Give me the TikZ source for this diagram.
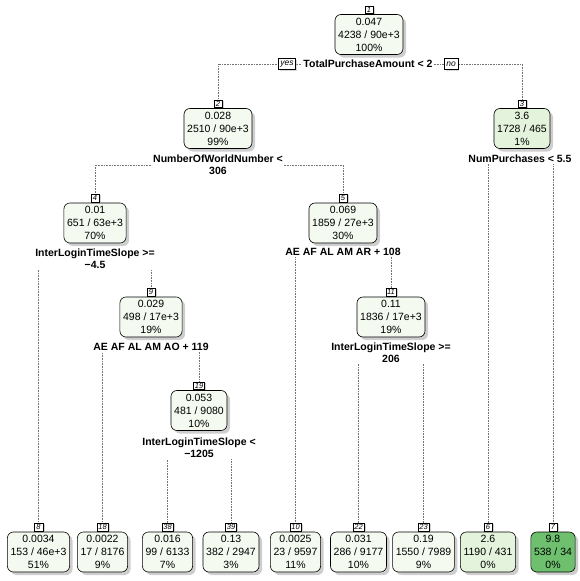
\documentclass[tikz,border=0pt]{standalone}
\usepackage{fontspec}
\setmainfont{Liberation Sans}
\usetikzlibrary{shadows,backgrounds}
\definecolor{lg}{RGB}{244,250,240}
\definecolor{mg}{RGB}{228,243,220}
\definecolor{dg}{RGB}{110,192,110}
\tikzset{
 tn/.style={draw, rounded corners=6pt, line width=0.6pt, fill=lg, align=center,
   font=\fontsize{10.5}{13}\selectfont, inner xsep=3.2pt, inner ysep=0pt, minimum height=40pt,
   drop shadow={shadow xshift=3pt, shadow yshift=-3pt, fill=black!35, opacity=0.55}},
 num/.style={draw, line width=0.4pt, fill=white, font=\fontsize{7.5}{8}\selectfont\itshape,
   inner xsep=1.4pt, inner ysep=0.1pt, minimum width=8.5pt, minimum height=7.5pt, anchor=south,
   drop shadow={shadow xshift=1.8pt, shadow yshift=-1pt, fill=black!30, opacity=0.6}},
 split/.style={fill=white, align=center, font=\fontsize{10.5}{12}\selectfont\bfseries, inner sep=1pt},
 yn/.style={draw, line width=0.4pt, fill=white, font=\fontsize{8.5}{9}\selectfont\itshape,
   inner xsep=2pt, inner ysep=0.3pt, minimum height=11pt,
   drop shadow={shadow xshift=1.5pt, shadow yshift=-1pt, fill=black!25, opacity=0.6}},
 conn/.style={line width=0.5pt, black!55, dash pattern=on 0.5pt off 1.1pt},
}
\begin{document}
\begin{tikzpicture}[x=1pt,y=-1pt]
\useasboundingbox (0,0) rectangle (579,581);
% internal nodes
\node[tn] (n1) at (369,34.5) {0.047\\4238 / 90e+3\\100\%};
\node[num] (l1) at (369,13.5) {1};
\node[split] (s1) at (368,64) {TotalPurchaseAmount < 2};
\node[yn] (yes) at (287,64) {yes};
\node[yn] (no) at (451,64) {no};

\node[tn] (n2) at (218,128.5) {0.028\\2510 / 90e+3\\99\%};
\node[num] (l2) at (218,107.5) {2};
\node[split] (s2) at (218,165) {NumberOfWorldNumber <\\306};

\node[tn,fill=mg] (n3) at (522,128.5) {3.6\\1728 / 465\\1\%};
\node[num] (l3) at (522,107.5) {3};
\node[split] (s3) at (520,159) {NumPurchases < 5.5};

\node[tn] (n4) at (95,223) {0.01\\651 / 63e+3\\70\%};
\node[num] (l4) at (95,202) {4};
\node[split] (s4) at (95,259) {InterLoginTimeSlope >=\\−4.5};

\node[tn] (n5) at (343,223) {0.069\\1859 / 27e+3\\30\%};
\node[num] (l5) at (343,202) {5};
\node[split] (s5) at (343,252) {AE AF AL AM AR + 108};

\node[tn] (n9) at (151,317) {0.029\\498 / 17e+3\\19\%};
\node[num] (l9) at (151,296) {9};
\node[split] (s9) at (151,347) {AE AF AL AM AO + 119};

\node[tn] (n11) at (391,317) {0.11\\1836 / 17e+3\\19\%};
\node[num] (l11) at (391,296) {11};
\node[split] (s11) at (391,353) {InterLoginTimeSlope >=\\206};

\node[tn] (n19) at (199,410.5) {0.053\\481 / 9080\\10\%};
\node[num] (l19) at (199,389.5) {19};
\node[split] (s19) at (199,448) {InterLoginTimeSlope <\\−1205};

% leaves
\node[tn] (n8) at (38.5,552) {0.0034\\153 / 46e+3\\51\%};
\node[num] (l8) at (38.5,531) {8};
\node[tn] (n18) at (102.5,552) {0.0022\\17 / 8176\\9\%};
\node[num] (l18) at (102.5,531) {18};
\node[tn] (n38) at (167.5,552) {0.016\\99 / 6133\\7\%};
\node[num] (l38) at (167.5,531) {38};
\node[tn] (n39) at (231,552) {0.13\\382 / 2947\\3\%};
\node[num] (l39) at (231,531) {39};
\node[tn] (n10) at (295.5,552) {0.0025\\23 / 9597\\11\%};
\node[num] (l10) at (295.5,531) {10};
\node[tn] (n22) at (358.5,552) {0.031\\286 / 9177\\10\%};
\node[num] (l22) at (358.5,531) {22};
\node[tn] (n23) at (423.5,552) {0.19\\1550 / 7989\\9\%};
\node[num] (l23) at (423.5,531) {23};
\node[tn,fill=mg] (n6) at (488,552) {2.6\\1190 / 431\\0\%};
\node[num] (l6) at (488,531) {6};
\node[tn,fill=dg] (n7) at (553,552) {9.8\\538 / 34\\0\%};
\node[num] (l7) at (553,531) {7};

\begin{pgfonlayer}{background}
\draw[conn] (s1.center) -| (l2.north);
\draw[conn] (s1.center) -| (l3.north);
\draw[conn] (s2.center) -| (l4.north);
\draw[conn] (s2.center) -| (l5.north);
\draw[conn] (s3.center) -| (l6.north);
\draw[conn] (s3.center) -| (l7.north);
\draw[conn] (s4.center) -| (l8.north);
\draw[conn] (s4.center) -| (l9.north);
\draw[conn] (s5.center) -| (l10.north);
\draw[conn] (s5.center) -| (l11.north);
\draw[conn] (s9.center) -| (l18.north);
\draw[conn] (s9.center) -| (l19.north);
\draw[conn] (s11.center) -| (l22.north);
\draw[conn] (s11.center) -| (l23.north);
\draw[conn] (s19.center) -| (l38.north);
\draw[conn] (s19.center) -| (l39.north);
\end{pgfonlayer}
\end{tikzpicture}
\end{document}
